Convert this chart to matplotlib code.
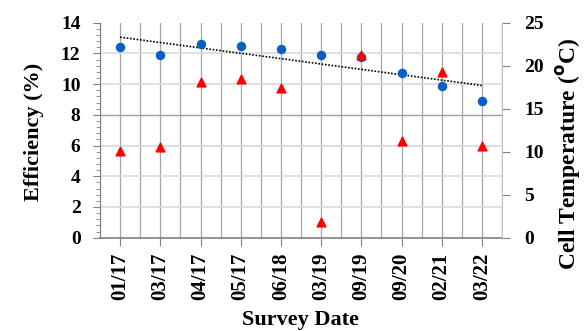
import numpy as np
import matplotlib
matplotlib.use("Agg")
import matplotlib.pyplot as plt
from matplotlib.ticker import MultipleLocator

dates = ["01/17", "03/17", "04/17", "05/17", "06/18", "03/19", "09/19", "09/20", "02/21", "03/22"]
efficiency = [12.4, 11.9, 12.6, 12.5, 12.3, 11.9, 11.75, 10.7, 9.9, 8.9]
cell_temp = [10.1, 10.6, 18.1, 18.4, 17.4, 1.8, 21.3, 11.3, 19.3, 10.7]

plt.rcParams['font.family'] = ['Liberation Serif', 'DejaVu Serif']
plt.rcParams['font.weight'] = 'bold'

fig = plt.figure(figsize=(5.87, 3.31), dpi=100)
ax = fig.add_axes([100/587, 1-237.7/331, 402/587, 215/331])
ax2 = ax.twinx()

x = np.arange(len(dates))

# grid
ax.set_xlim(-0.5, len(dates) - 0.5)
ax.set_ylim(0, 14)
for v in np.arange(-0.5, len(dates), 0.5):
    ax.axvline(v, color='#a6a6a6', lw=0.9, zorder=0)
for v in [2, 4, 6, 10, 12]:
    ax.axhline(v, color='#d9d9d9', lw=1.2, zorder=0)
ax.axhline(8, color='#a0a0a0', lw=1.0, zorder=0)

ax.scatter(x, efficiency, s=34, color='#0a5fc2', zorder=3)
coef = np.polyfit(x, efficiency, 1)
ax.plot(x, np.polyval(coef, x), color='black', ls=(0, (1, 1)), lw=1.2, zorder=2)

ax2.set_ylim(0, 25)
ax2.scatter(x, cell_temp, marker='^', s=40, color='#ff0000', zorder=3)

ax.set_xticks(x)
ax.set_xticklabels(dates, rotation=90, fontsize=15, fontweight='bold')
ax.yaxis.set_major_locator(MultipleLocator(2))
ax.yaxis.set_minor_locator(MultipleLocator(0.4))
ax.tick_params(axis='y', which='major', labelsize=14, length=5, color='#808080', pad=9)
ax.tick_params(axis='y', which='minor', length=3, color='#808080')
ax.tick_params(axis='x', length=6, color='#808080', pad=5)
ax2.yaxis.set_major_locator(MultipleLocator(5))
ax2.tick_params(axis='y', labelsize=14, length=6, color='#808080', pad=10)

for a in (ax, ax2):
    a.spines['top'].set_visible(False)
ax.spines['left'].set_color('#808080')
ax.spines['bottom'].set_color('#808080')
ax.spines['bottom'].set_linewidth(1.2)
ax2.spines['right'].set_color('#c0c0c0')
ax2.spines['left'].set_visible(False)
ax2.spines['bottom'].set_visible(False)
ax.spines['right'].set_visible(False)

ax.set_ylabel('Efficiency (%)', fontsize=16, fontweight='bold')
ax.yaxis.set_label_coords(-0.14, 0.49)
ax2.set_ylabel('Cell Temperature ($\\mathbf{^{o}}$C)', fontsize=17, fontweight='bold')
ax2.yaxis.set_label_coords(1.13, 0.39)
ax.set_xlabel('Survey Date', fontsize=16, fontweight='bold')
ax.xaxis.set_label_coords(0.5, -0.335)

fig.savefig('out.png', dpi=100)
